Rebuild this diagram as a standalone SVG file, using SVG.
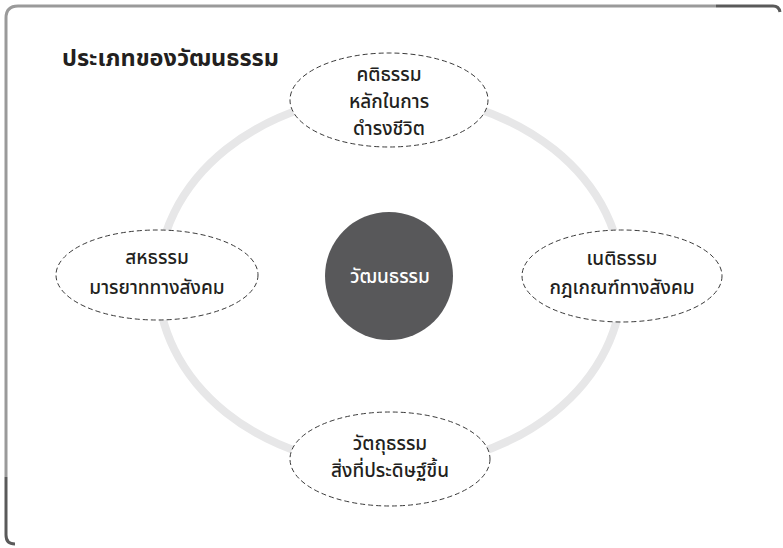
<svg xmlns="http://www.w3.org/2000/svg" width="783" height="548" viewBox="0 0 783 548">
<style>
.t{font-family:"Noto Sans Thai","Noto Sans Thai Looped","Noto Sans","DejaVu Sans",sans-serif;font-size:19px;fill:#231f20;text-anchor:middle;font-weight:500}
.node{fill:#fff;stroke:#3a3a3a;stroke-width:1;stroke-dasharray:5 3}
</style>
<rect width="783" height="548" fill="#fff"/>
<g id="frame" fill="none" stroke-width="3">
<path d="M6,477 V18 Q6,6 18,6 H716" stroke="#9a9a9a"/>
<path d="M716,6 H773 Q779,6 780,12" stroke="#5a5a5a"/>
<path d="M6,477 V535 Q6,544 15,544" stroke="#5a5a5a"/>
</g>
<text x="62" y="66" style="font-family:'Noto Sans Thai','Noto Sans',sans-serif;font-size:23.5px;font-weight:700;fill:#231f20">ประเภทของวัฒนธรรม</text>
<g id="connectors">
<ellipse cx="390" cy="281" rx="232" ry="186" fill="none" stroke="#e7e7e8" stroke-width="8"/>
</g>
<g id="center">
<circle cx="389" cy="276" r="64" fill="#58585a"/>
<text class="t" x="390" y="283" style="fill:#fff">วัฒนธรรม</text>
</g>
<g id="top">
<ellipse class="node" cx="389" cy="100" rx="99" ry="47"/>
<text class="t" x="389" y="81">คติธรรม</text>
<text class="t" x="389" y="108">หลักในการ</text>
<text class="t" x="389" y="135">ดำรงชีวิต</text>
</g>
<g id="left">
<ellipse class="node" cx="157" cy="275" rx="101" ry="45"/>
<text class="t" x="157" y="264">สหธรรม</text>
<text class="t" x="157" y="294">มารยาททางสังคม</text>
</g>
<g id="right">
<ellipse class="node" cx="622" cy="276" rx="100" ry="46"/>
<text class="t" x="622" y="265">เนติธรรม</text>
<text class="t" x="622" y="294">กฎเกณฑ์ทางสังคม</text>
</g>
<g id="bottom">
<ellipse class="node" cx="390" cy="459" rx="100" ry="47"/>
<text class="t" x="390" y="450">วัตถุธรรม</text>
<text class="t" x="390" y="477">สิ่งที่ประดิษฐ์ขึ้น</text>
</g>
</svg>
